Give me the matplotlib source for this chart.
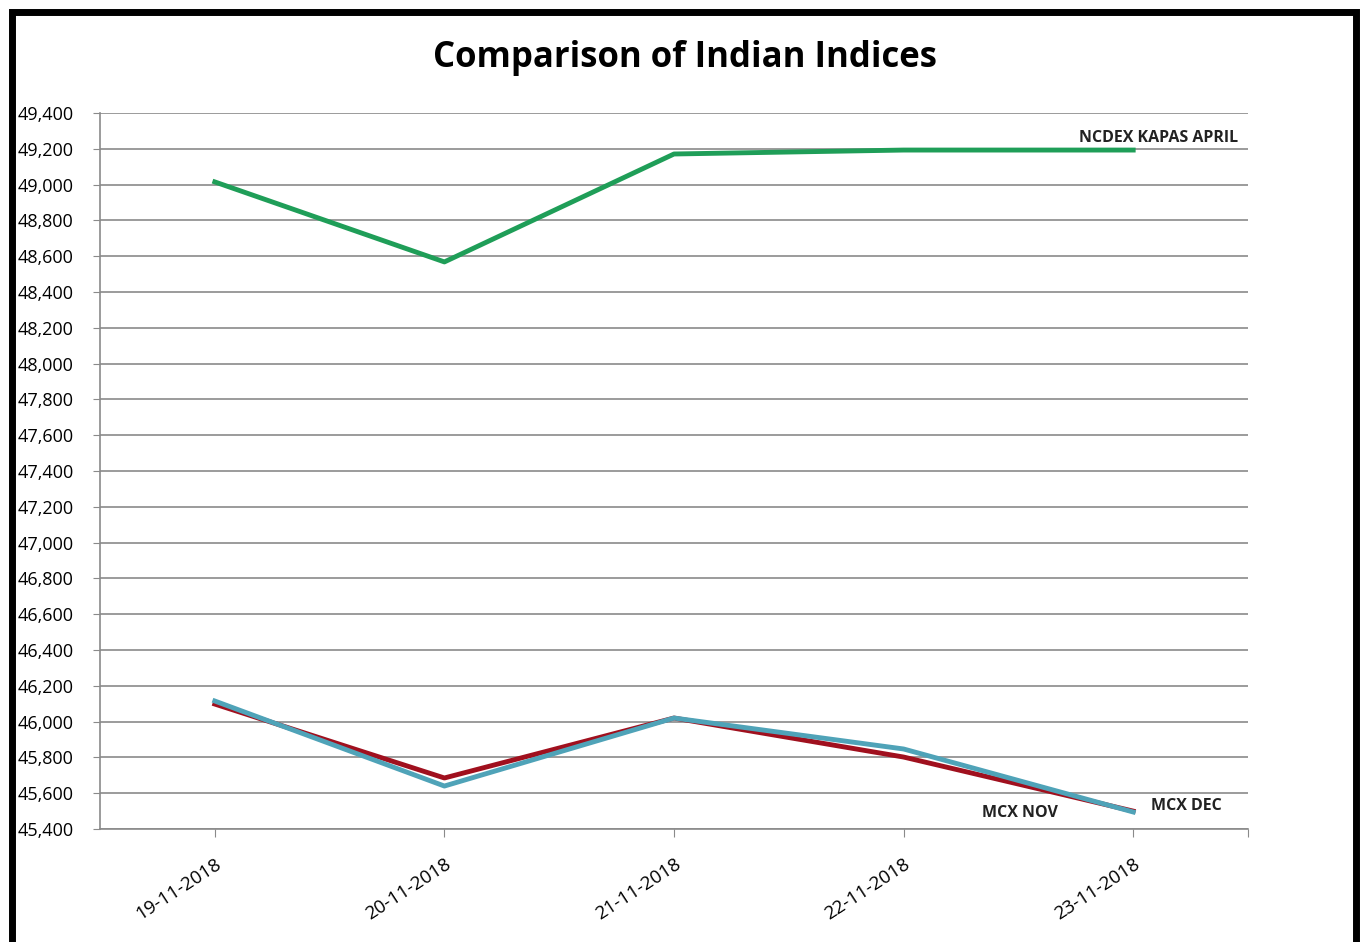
import matplotlib.pyplot as plt
from matplotlib.patches import Rectangle
from matplotlib.ticker import FuncFormatter, MultipleLocator

# ── Data ──────────────────────────────────────────────────────────────────────
dates = ["19-11-2018", "20-11-2018", "21-11-2018", "22-11-2018", "23-11-2018"]
ncdex_kapas_april = [49015, 48568, 49171, 49193, 49193]
mcx_nov = [46098, 45685, 46020, 45802, 45500]
mcx_dec = [46115, 45640, 46020, 45847, 45495]

plt.rcParams["font.family"] = ["Open Sans", "DejaVu Sans"]

fig = plt.figure(figsize=(13.66, 9.42), dpi=100)
ax = fig.add_axes([100 / 1366, 1 - 829 / 942, 1148 / 1366, 716 / 942])

x = list(range(len(dates)))
ax.plot(x, ncdex_kapas_april, color="#1f9e58", lw=3.5, zorder=3)
ax.plot(x, mcx_nov, color="#a0101e", lw=3.5, zorder=3)
ax.plot(x, mcx_dec, color="#4fa3b8", lw=3.5, zorder=4)

ax.set_xlim(-0.5, 4.5)
ax.set_ylim(45400, 49400)
ax.yaxis.set_major_locator(MultipleLocator(200))
ax.yaxis.set_major_formatter(FuncFormatter(lambda v, p: f"{v:,.0f}"))
ax.grid(axis="y", color="#8a8a8a", lw=1.2)
ax.set_axisbelow(True)

ax.set_xticks(x + [4.5])
ax.set_xticklabels(dates + [""], rotation=33, ha="right", rotation_mode="anchor", fontsize=13.5)
ax.tick_params(axis="x", length=6, color="#8a8a8a", pad=13)
ax.tick_params(axis="y", length=5, color="#8a8a8a", labelsize=13, pad=14)

for side in ["top", "right"]:
    ax.spines[side].set_visible(False)
for side in ["left", "bottom"]:
    ax.spines[side].set_color("#8a8a8a")
    ax.spines[side].set_linewidth(1.2)

# series labels at the right end
ax.text(4.455, 49260, "NCDEX KAPAS APRIL", fontsize=11.5, fontweight="bold",
        ha="right", va="center", color="#222222")
ax.text(4.387, 45528, "MCX DEC", fontsize=11.5, fontweight="bold",
        ha="right", va="center", color="#222222")
ax.text(3.673, 45489, "MCX NOV", fontsize=11.5, fontweight="bold",
        ha="right", va="center", color="#222222")

fig.text(685 / 1366, 1 - 58 / 942, "Comparison of Indian Indices", fontsize=25,
         fontweight="bold", ha="center", va="center")

# outer frame
fig.patches.append(Rectangle((12 / 1366, -0.05), 1344 / 1366, 1 - 12 / 942 + 0.05,
                             transform=fig.transFigure, fill=False,
                             edgecolor="black", lw=5, zorder=10))

fig.savefig("out.png", dpi=100)
